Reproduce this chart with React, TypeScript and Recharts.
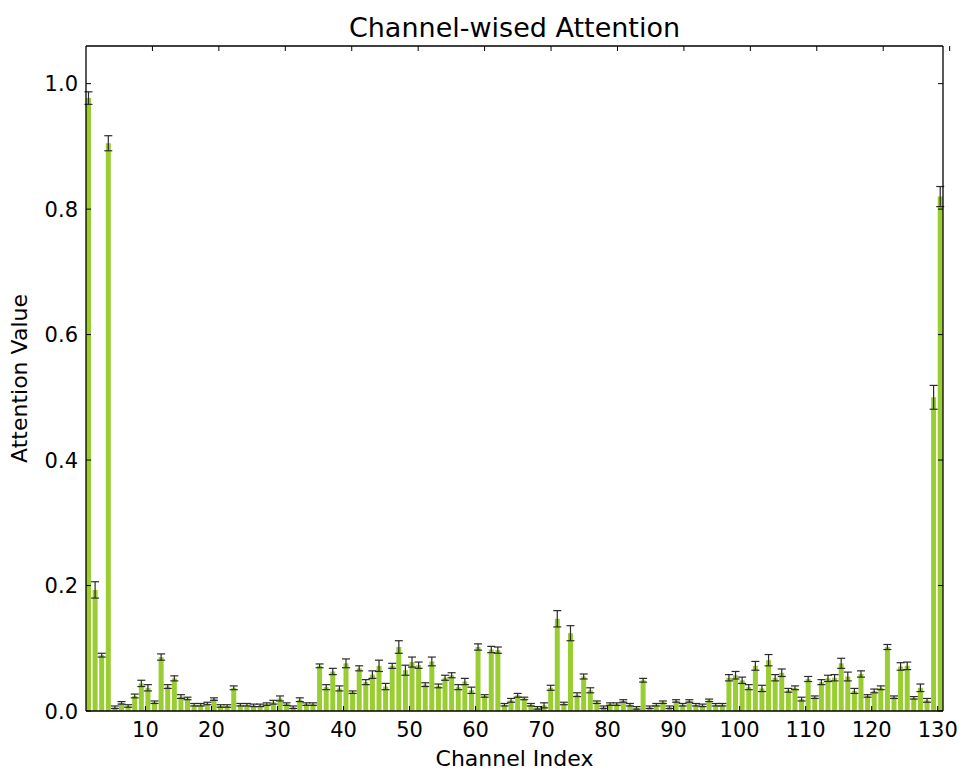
import React from 'react'
import { BarChart, Bar, XAxis, YAxis, ErrorBar } from 'recharts'

// channel index 1..130
const channels = Array.from({ length: 130 }, (_, i) => i + 1)

const attention = [
  0.977, 0.193, 0.089, 0.905, 0.006, 0.013, 0.008, 0.024, 0.044, 0.037,
  0.014, 0.086, 0.039, 0.052, 0.023, 0.02, 0.01, 0.01, 0.012, 0.019,
  0.008, 0.008, 0.037, 0.01, 0.01, 0.009, 0.009, 0.011, 0.014, 0.02,
  0.011, 0.006, 0.018, 0.011, 0.011, 0.072, 0.038, 0.063, 0.036, 0.076,
  0.03, 0.068, 0.046, 0.058, 0.072, 0.039, 0.072, 0.102, 0.065, 0.078,
  0.073, 0.042, 0.079, 0.04, 0.053, 0.057, 0.038, 0.047, 0.033, 0.102,
  0.024, 0.098, 0.097, 0.01, 0.017, 0.025, 0.02, 0.01, 0.005, 0.009,
  0.037, 0.147, 0.012, 0.124, 0.026, 0.055, 0.033, 0.014, 0.006, 0.011,
  0.011, 0.016, 0.01, 0.005, 0.049, 0.006, 0.01, 0.014, 0.006, 0.016,
  0.01, 0.016, 0.01, 0.009, 0.017, 0.01, 0.01, 0.053, 0.057, 0.049,
  0.038, 0.072, 0.036, 0.081, 0.053, 0.061, 0.033, 0.037, 0.019, 0.051,
  0.022, 0.046, 0.052, 0.053, 0.076, 0.055, 0.032, 0.059, 0.024, 0.032,
  0.037, 0.102, 0.022, 0.071, 0.072, 0.021, 0.037, 0.017, 0.5, 0.82,
]

const attentionErr = [
  0.01, 0.013, 0.003, 0.012, 0.002, 0.002, 0.002, 0.003, 0.005, 0.005,
  0.002, 0.005, 0.003, 0.004, 0.003, 0.002, 0.002, 0.002, 0.002, 0.002,
  0.002, 0.002, 0.003, 0.002, 0.002, 0.002, 0.002, 0.002, 0.003, 0.004,
  0.002, 0.002, 0.003, 0.002, 0.002, 0.003, 0.004, 0.005, 0.004, 0.007,
  0.002, 0.004, 0.004, 0.006, 0.009, 0.005, 0.004, 0.01, 0.008, 0.008,
  0.005, 0.003, 0.007, 0.003, 0.004, 0.004, 0.004, 0.005, 0.005, 0.005,
  0.002, 0.005, 0.005, 0.002, 0.003, 0.003, 0.002, 0.002, 0.002, 0.004,
  0.004, 0.013, 0.002, 0.012, 0.003, 0.004, 0.004, 0.002, 0.002, 0.002,
  0.002, 0.002, 0.002, 0.002, 0.003, 0.002, 0.002, 0.002, 0.002, 0.002,
  0.002, 0.002, 0.002, 0.002, 0.002, 0.002, 0.002, 0.005, 0.006, 0.005,
  0.004, 0.007, 0.005, 0.009, 0.005, 0.006, 0.003, 0.003, 0.003, 0.004,
  0.002, 0.004, 0.005, 0.005, 0.008, 0.007, 0.004, 0.005, 0.002, 0.003,
  0.003, 0.004, 0.002, 0.006, 0.006, 0.002, 0.006, 0.003, 0.019, 0.016,
]

const xTicks = [10, 20, 30, 40, 50, 60, 70, 80, 90, 100, 110, 120, 130]
const yTicks = [0, 0.2, 0.4, 0.6, 0.8, 1.0]

const data = channels.map((c, i) => ({
  channel: c,
  value: attention[i],
  err: attentionErr[i],
}))

// bars sit with their left edge on the channel index (width 0.8), like align='edge'
const barCenter = (d: { channel: number }) => d.channel + 0.4

const FONT = '"DejaVu Sans", sans-serif'
const TICK_LEN = 5
const xDomain: [number, number] = [1, 130.8]
const yDomain: [number, number] = [0, 1.06]

function BottomTick({ x, y, payload }: any) {
  return (
    <g>
      <line x1={x} y1={y} x2={x} y2={y - TICK_LEN} stroke="#000" />
      <text x={x} y={y + 26} textAnchor="middle" fontSize={21} fontFamily={FONT} fill="#000">
        {payload.value}
      </text>
    </g>
  )
}

function TopTick({ x, y }: any) {
  return <line x1={x} y1={y} x2={x} y2={y + TICK_LEN} stroke="#000" />
}

function LeftTick({ x, y, payload }: any) {
  return (
    <g>
      <line x1={x} y1={y} x2={x + TICK_LEN} y2={y} stroke="#000" />
      <text x={x - 8} y={y} dy="0.36em" textAnchor="end" fontSize={21} fontFamily={FONT} fill="#000">
        {payload.value.toFixed(1)}
      </text>
    </g>
  )
}

function RightTick({ x, y }: any) {
  return <line x1={x} y1={y} x2={x - TICK_LEN} y2={y} stroke="#000" />
}

const axisLine = { stroke: '#000', strokeWidth: 1.3 }

export default function App() {
  return (
    <div style={{ position: 'absolute', left: 0, top: 0, width: 962, height: 772, background: '#fff' }}>
      <BarChart
        width={962}
        height={772}
        data={data}
        margin={{ top: 45, right: 18, bottom: 0, left: 0 }}
        barCategoryGap="10%"
      >
        <XAxis
          type="number"
          dataKey={barCenter}
          domain={xDomain}
          allowDataOverflow
          ticks={xTicks}
          interval={0}
          height={61}
          tickSize={0}
          tickMargin={0}
          tickLine={false}
          axisLine={axisLine}
          tick={<BottomTick />}
          label={{
            value: 'Channel Index',
            position: 'insideBottom',
            offset: 6,
            style: { fontSize: 22, fontFamily: FONT, fill: '#000' },
          }}
        />
        <XAxis
          xAxisId="top"
          orientation="top"
          type="number"
          domain={xDomain}
          allowDataOverflow
          ticks={xTicks}
          interval={0}
          height={1}
          tickSize={0}
          tickMargin={0}
          tickLine={false}
          axisLine={axisLine}
          tick={<TopTick />}
          label={{
            value: 'Channel-wised Attention',
            position: 'top',
            offset: 8,
            style: { fontSize: 27, fontFamily: FONT, fill: '#000' },
          }}
        />
        <YAxis
          type="number"
          domain={yDomain}
          allowDataOverflow
          ticks={yTicks}
          interval={0}
          width={86}
          tickSize={0}
          tickMargin={0}
          tickLine={false}
          axisLine={axisLine}
          tick={<LeftTick />}
          label={{
            value: 'Attention Value',
            angle: -90,
            position: 'insideLeft',
            offset: 19,
            style: { textAnchor: 'middle', fontSize: 22, fontFamily: FONT, fill: '#000' },
          }}
        />
        <YAxis
          yAxisId="right"
          orientation="right"
          type="number"
          domain={yDomain}
          allowDataOverflow
          ticks={yTicks}
          interval={0}
          width={1}
          tickSize={0}
          tickMargin={0}
          tickLine={false}
          axisLine={axisLine}
          tick={<RightTick />}
        />
        <Bar dataKey="value" fill="#9acd32" isAnimationActive={false}>
          <ErrorBar dataKey="err" direction="y" width={4} stroke="#2b2b2b" strokeWidth={1.2} />
        </Bar>
      </BarChart>
    </div>
  )
}
